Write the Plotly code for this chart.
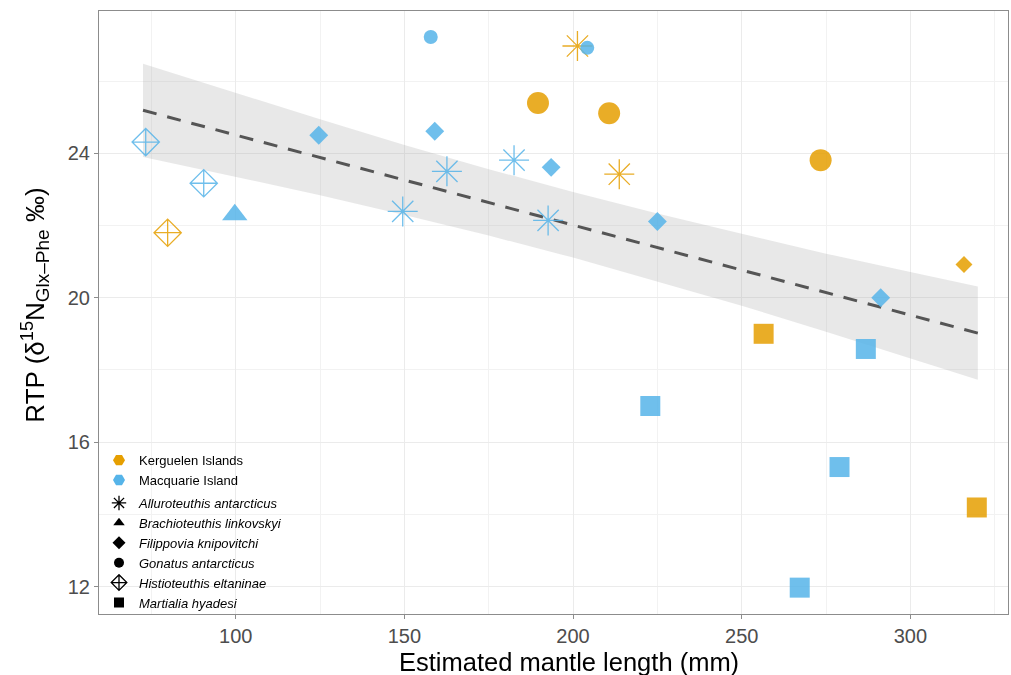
import plotly.graph_objects as go

# ---------------- data ----------------
kerg_species = ["Histioteuthis eltaninae", "Alluroteuthis antarcticus", "Alluroteuthis antarcticus",
                "Gonatus antarcticus", "Gonatus antarcticus", "Gonatus antarcticus",
                "Filippovia knipovitchi", "Martialia hyadesi", "Martialia hyadesi"]
kerg_x = [79.8, 201.3, 213.7, 189.6, 210.7, 273.4, 315.9, 256.5, 319.7]
kerg_y = [21.8, 26.97, 23.42, 25.39, 25.11, 23.81, 20.92, 19.0, 14.19]

macq_species = ["Histioteuthis eltaninae", "Histioteuthis eltaninae", "Brachioteuthis linkovskyi",
                "Filippovia knipovitchi", "Filippovia knipovitchi", "Filippovia knipovitchi",
                "Filippovia knipovitchi", "Filippovia knipovitchi",
                "Gonatus antarcticus", "Gonatus antarcticus",
                "Alluroteuthis antarcticus", "Alluroteuthis antarcticus",
                "Alluroteuthis antarcticus", "Alluroteuthis antarcticus",
                "Martialia hyadesi", "Martialia hyadesi", "Martialia hyadesi", "Martialia hyadesi"]
macq_x = [73.3, 90.5, 99.7, 124.6, 159.0, 193.5, 225.0, 291.2,
          157.8, 204.2, 149.5, 162.6, 182.5, 192.6, 222.9, 286.8, 279.0, 267.2]
macq_y = [24.31, 23.17, 22.3, 24.5, 24.61, 23.61, 22.11, 20.0,
          27.22, 26.92, 22.39, 23.5, 23.81, 22.14, 17.0, 18.58, 15.31, 11.97]

species_order = ["Alluroteuthis antarcticus", "Brachioteuthis linkovskyi", "Filippovia knipovitchi",
                 "Gonatus antarcticus", "Histioteuthis eltaninae", "Martialia hyadesi"]

# regression line and confidence band
fit_x = [72.5, 320.0]
fit_y = [25.19, 19.02]
band_x = [72.5, 100, 125, 150, 175, 200, 225, 250, 275, 300, 320]
band_upper = [26.48, 25.67, 24.94, 24.23, 23.56, 22.93, 22.33, 21.77, 21.22, 20.71, 20.31]
band_lower = [23.90, 23.35, 22.84, 22.29, 21.72, 21.11, 20.45, 19.78, 19.06, 18.33, 17.73]

x_title = "Estimated mantle length (mm)"
y_title = ("RTP (δ<sup>15</sup>N<sub><span style='font-size:19px'>Glx–Phe</span></sub>"
           "<span style='font-size:26px'> ‰</span>)")

# ---------------- styles ----------------
site_colors = {"Kerguelen Islands": "#E69F00", "Macquarie Island": "#56B4E9"}
symbols = {"Alluroteuthis antarcticus": "asterisk-open",
           "Brachioteuthis linkovskyi": "triangle-up",
           "Filippovia knipovitchi": "diamond",
           "Gonatus antarcticus": "circle",
           "Histioteuthis eltaninae": "diamond-cross-open",
           "Martialia hyadesi": "square"}
sizes = {("Kerguelen Islands", "Alluroteuthis antarcticus"): 25,
         ("Macquarie Island", "Alluroteuthis antarcticus"): 25,
         ("Macquarie Island", "Brachioteuthis linkovskyi"): 22,
         ("Kerguelen Islands", "Filippovia knipovitchi"): 13,
         ("Macquarie Island", "Filippovia knipovitchi"): 14.5,
         ("Kerguelen Islands", "Gonatus antarcticus"): 22,
         ("Macquarie Island", "Gonatus antarcticus"): 14,
         ("Kerguelen Islands", "Histioteuthis eltaninae"): 21,
         ("Macquarie Island", "Histioteuthis eltaninae"): 21,
         ("Kerguelen Islands", "Martialia hyadesi"): 20,
         ("Macquarie Island", "Martialia hyadesi"): 20}
line_syms = {"asterisk-open", "diamond-cross-open"}

fig = go.Figure()

# confidence band
fig.add_trace(go.Scatter(x=band_x, y=band_upper, mode="lines", line=dict(width=0),
                         showlegend=False, hoverinfo="skip"))
fig.add_trace(go.Scatter(x=band_x, y=band_lower, mode="lines", line=dict(width=0),
                         fill="tonexty", fillcolor="rgba(160,160,160,0.24)",
                         showlegend=False, hoverinfo="skip"))
# regression line
fig.add_trace(go.Scatter(x=fit_x, y=fit_y, mode="lines",
                         line=dict(color="#555555", width=3, dash="14px,11px"),
                         showlegend=False, hoverinfo="skip"))

# points
for site, sp_list, xs, ys in [("Kerguelen Islands", kerg_species, kerg_x, kerg_y),
                              ("Macquarie Island", macq_species, macq_x, macq_y)]:
    col = site_colors[site]
    for sp in species_order:
        px = [x for x, s in zip(xs, sp_list) if s == sp]
        py = [y for y, s in zip(ys, sp_list) if s == sp]
        if not px:
            continue
        sym = symbols[sp]
        if sym in line_syms:
            marker = dict(symbol=sym, size=sizes[(site, sp)], color=col,
                          line=dict(color=col, width=1.3))
        else:
            marker = dict(symbol=sym, size=sizes[(site, sp)], color=col,
                          line=dict(width=0))
        fig.add_trace(go.Scatter(x=px, y=py, mode="markers", marker=marker, opacity=0.85,
                                 showlegend=False, name=f"{site} – {sp}"))

# legend entries
for site in ["Kerguelen Islands", "Macquarie Island"]:
    fig.add_trace(go.Scatter(x=[None], y=[None], mode="markers", name=site,
                             legendgroup="site",
                             marker=dict(symbol="hexagon2", size=12, color=site_colors[site])))
for sp in species_order:
    sym = symbols[sp]
    if sym in line_syms:
        mk = dict(symbol=sym, size=12, color="black", line=dict(color="black", width=1.3))
    else:
        mk = dict(symbol=sym, size=10, color="black", line=dict(width=0))
    fig.add_trace(go.Scatter(x=[None], y=[None], mode="markers", name=f"<i>{sp}</i>",
                             legendgroup="species", marker=mk))

axis_common = dict(showline=True, linecolor="#8C8C8C", linewidth=1.2, mirror=True,
                   ticks="outside", ticklen=4, tickcolor="#8C8C8C", automargin=False,
                   showgrid=True, gridcolor="#EBEBEB", gridwidth=1.2, zeroline=False,
                   tickfont=dict(family="Liberation Sans, Arial, sans-serif", size=20, color="#4D4D4D"))

fig.update_layout(
    width=1011, height=675,
    margin=dict(l=99, r=3, t=11, b=61, autoexpand=False),
    paper_bgcolor="white", plot_bgcolor="white",
    font=dict(family="Liberation Sans, Arial, sans-serif", color="black"),
    xaxis=dict(range=[59.45, 328.95], tickvals=[100, 150, 200, 250, 300],
               minor=dict(tickvals=[75, 125, 175, 225, 275, 325], showgrid=True,
                          gridcolor="#F2F2F2", gridwidth=1, ticks=""),
               **axis_common),
    yaxis=dict(range=[11.24, 27.94], tickvals=[12, 16, 20, 24],
               minor=dict(tickvals=[14, 18, 22, 26], showgrid=True,
                          gridcolor="#F2F2F2", gridwidth=1, ticks=""),
               **axis_common),
    legend=dict(x=0.0, y=-0.007, xanchor="left", yanchor="bottom",
                bgcolor="rgba(0,0,0,0)", font=dict(size=13, color="black"),
                traceorder="grouped", tracegroupgap=3, itemsizing="trace"),
    showlegend=True,
    annotations=[
        dict(text=x_title, xref="paper", yref="paper", x=0.517, y=-0.0796,
             xanchor="center", yanchor="middle", showarrow=False,
             font=dict(size=25.5, color="black")),
        dict(text=y_title, xref="paper", yref="paper", x=-0.07, y=0.512,
             xanchor="center", yanchor="middle", showarrow=False, textangle=-90,
             font=dict(size=26, color="black")),
    ],
)

post_js = ("document.body.style.margin='0';document.body.style.padding='0';"
           "document.body.style.overflow='hidden';"
           "var gd=document.getElementById('{plot_id}');"
           "Plotly.relayout(gd,{width:1011,height:675});")

fig.write_html("out.html", config={"responsive": False, "displayModeBar": False},
               post_script=post_js)
